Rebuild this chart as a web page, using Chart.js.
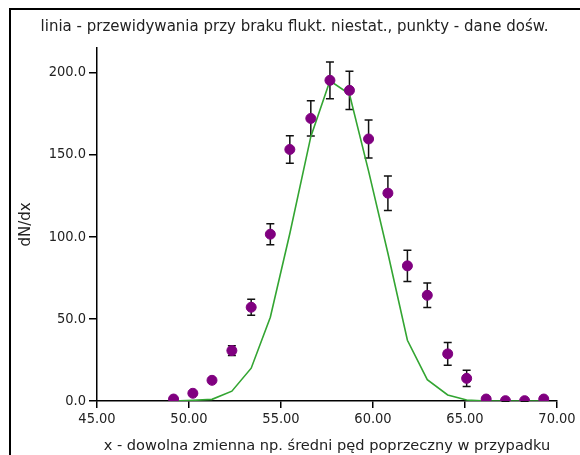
<!DOCTYPE html>
<html><head><meta charset="utf-8">
<script src="https://cdn.jsdelivr.net/npm/chart.js@4"></script>
<style>
html,body{margin:0;padding:0;background:#fff;}
#frame{position:absolute;left:9px;top:8px;width:600px;height:500px;border-top:2px solid #000;border-left:2px solid #000;}
#wrap{position:absolute;left:0;top:0;width:580px;height:455px;}
</style></head><body>
<div id="frame"></div>
<div id="wrap"><canvas id="c" width="580" height="455"></canvas></div>
<script>
const chartTitle = 'linia - przewidywania przy braku flukt. niestat., punkty - dane dośw.';
const xAxisTitle = 'x - dowolna zmienna np. średni pęd poprzeczny w przypadku';
const yAxisTitle = 'dN/dx';

const xValues   = [49.16, 50.21, 51.25, 52.33, 53.38, 54.42, 55.48, 56.62, 57.66, 58.72, 59.76, 60.81, 61.87, 62.95, 64.06, 65.09, 66.15, 67.20, 68.24, 69.28];
const measured  = [1.2, 4.7, 12.6, 30.7, 57.1, 101.6, 153.2, 172.1, 195.3, 189.2, 159.6, 126.6, 82.3, 64.4, 28.7, 13.8, 1.2, 0.2, 0.2, 1.2];
const errors    = [0.5, 1.0, 1.5, 3.0, 4.8, 6.4, 8.4, 10.7, 11.2, 11.7, 11.6, 10.5, 9.5, 7.4, 6.9, 4.9, 0.5, 0.3, 0.3, 0.5];
const predicted = [0, 0.4, 1.0, 6.0, 20.0, 51.0, 102.0, 161.0, 195.0, 187.0, 140.0, 90.0, 37.0, 13.0, 3.7, 0.6, 0, 0, 0, 0];

const titleFont = {family: 'DejaVu Sans', size: 15, weight: 'normal'};
const xTitleFont = {family: 'DejaVu Sans', size: 14.6, weight: 'normal'};
const tickFont = {family: "'DejaVu Sans Condensed', 'DejaVu Sans'", size: 14.5, weight: 'normal'};
const txt = '#222';

const errorBarPlugin = {
  id: 'errorBars',
  beforeDatasetsDraw(chart) {
    const {ctx, scales: {x, y}} = chart;
    ctx.save();
    ctx.strokeStyle = '#111';
    ctx.lineWidth = 1.5;
    const cap = 4;
    xValues.forEach((xv, i) => {
      const px = x.getPixelForValue(xv);
      const top = y.getPixelForValue(measured[i] + errors[i]);
      const bot = y.getPixelForValue(measured[i] - errors[i]);
      ctx.beginPath();
      ctx.moveTo(px, top); ctx.lineTo(px, bot);
      ctx.moveTo(px - cap, top); ctx.lineTo(px + cap, top);
      ctx.moveTo(px - cap, bot); ctx.lineTo(px + cap, bot);
      ctx.stroke();
    });
    ctx.restore();
  }
};

new Chart(document.getElementById('c'), {
  type: 'scatter',
  data: {
    datasets: [
      {
        label: 'dane',
        data: xValues.map((xv, i) => ({x: xv, y: measured[i]})),
        backgroundColor: '#800080',
        borderColor: '#800080',
        pointRadius: 5,
        showLine: false
      },
      {
        label: 'przewidywania',
        data: xValues.map((xv, i) => ({x: xv, y: predicted[i]})),
        borderColor: '#33a532',
        borderWidth: 1.6,
        pointRadius: 0,
        showLine: true,
        fill: false,
        tension: 0
      }
    ]
  },
  options: {
    responsive: false,
    animation: false,
    layout: {padding: {top: 0, right: 0, bottom: 0, left: 9}},
    plugins: {
      legend: {display: false},
      tooltip: {enabled: false},
      title: {display: true, text: chartTitle, font: titleFont, color: txt, padding: {top: 18, bottom: 12}}
    },
    scales: {
      x: {
        type: 'linear', min: 45, max: 70,
        ticks: {stepSize: 5, includeBounds: false, callback: v => v.toFixed(2), font: tickFont, color: txt, padding: 3, maxRotation: 0},
        grid: {drawOnChartArea: false, drawTicks: true, tickLength: 7, color: '#000', lineWidth: 1.5},
        border: {color: '#000', width: 1.5},
        title: {display: true, text: xAxisTitle, font: xTitleFont, color: txt, padding: {top: 2, bottom: 0.5}},
        afterFit: s => { s.height = 54; s.paddingRight = 23; }
      },
      y: {
        type: 'linear', min: 0, max: 215,
        ticks: {stepSize: 50, includeBounds: false, callback: v => v.toFixed(1), font: tickFont, color: txt, padding: 3},
        grid: {drawOnChartArea: false, drawTicks: true, tickLength: 8, color: '#000', lineWidth: 1.5},
        border: {color: '#000', width: 1.5},
        title: {display: true, text: yAxisTitle, font: titleFont, color: txt, padding: {top: 8, bottom: 4}},
        afterFit: s => { s.width = 88; }
      }
    }
  },
  plugins: [errorBarPlugin]
});
</script>
</body></html>
